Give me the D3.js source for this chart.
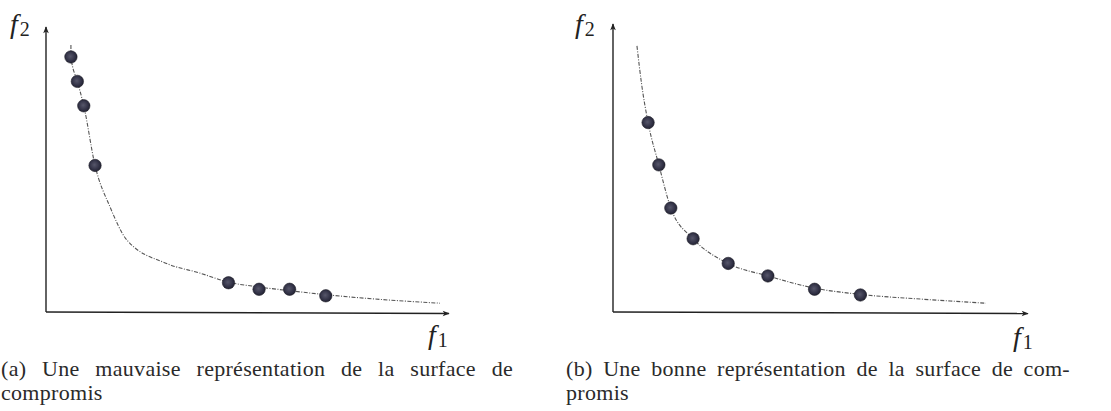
<!DOCTYPE html>
<html>
<head>
<meta charset="utf-8">
<script src="https://cdn.jsdelivr.net/npm/d3@7/dist/d3.min.js"></script>
<style>
  html, body { margin: 0; padding: 0; background: #fff; }
  svg { display: block; }
  .serif { font-family: "Liberation Serif", "DejaVu Serif", serif; }
</style>
</head>
<body>
<svg id="fig" width="1111" height="411"></svg>
<script>
// Panel (a): front samples clustered at the two ends of the trade-off curve
const frontA_f1 = [0.62, 0.62, 0.78, 0.94, 1.22, 1.59, 2.01, 3.00, 3.83, 4.54, 5.30, 6.06, 6.96, 7.98, 9.80];
const frontA_f2 = [9.40, 8.98, 8.12, 7.26, 5.16, 3.71, 2.54, 1.71, 1.37, 1.05, 0.88, 0.75, 0.61, 0.48, 0.31];
const pointsA_f1 = [0.62, 0.78, 0.94, 1.22, 4.54, 5.30, 6.06, 6.96];
const pointsA_f2 = [8.98, 8.12, 7.26, 5.16, 1.03, 0.80, 0.80, 0.57];

// Panel (b): front samples spread evenly along the trade-off curve
const frontB_f1 = [0.58, 0.69, 0.85, 1.11, 1.40, 1.94, 2.79, 3.75, 4.88, 5.99, 7.50, 9.03];
const frontB_f2 = [9.37, 8.05, 6.67, 5.18, 3.66, 2.58, 1.71, 1.27, 0.84, 0.62, 0.45, 0.31];
const pointsB_f1 = [0.85, 1.11, 1.40, 1.94, 2.79, 3.75, 4.88, 5.99];
const pointsB_f2 = [6.67, 5.18, 3.66, 2.58, 1.71, 1.27, 0.80, 0.60];

const captionA = ["(a) Une mauvaise représentation de la surface de", "compromis"];
const captionB = ["(b) Une bonne représentation de la surface de com-", "promis"];

const svg = d3.select("#fig");
const defs = svg.append("defs");
defs.append("marker")
  .attr("id", "arrow")
  .attr("viewBox", "0 0 10 10")
  .attr("refX", 9).attr("refY", 5)
  .attr("markerWidth", 9).attr("markerHeight", 7)
  .attr("markerUnits", "userSpaceOnUse")
  .attr("orient", "auto")
  .append("path")
  .attr("d", "M0,1 L10,5 L0,9 L2.5,5 Z")
  .attr("fill", "#222");

const dotGrad = defs.append("radialGradient")
  .attr("id", "dot").attr("cx", "45%").attr("cy", "45%").attr("r", "60%");
dotGrad.append("stop").attr("offset", "0%").attr("stop-color", "#56566a");
dotGrad.append("stop").attr("offset", "70%").attr("stop-color", "#2e2e42");
dotGrad.append("stop").attr("offset", "100%").attr("stop-color", "#20202c");

function panel(cfg) {
  const x = d3.scaleLinear().domain([0, 10]).range([cfg.x0, cfg.x1]);
  const y = d3.scaleLinear().domain([0, 10]).range([cfg.y0, 28]);
  const g = svg.append("g");

  // axes with arrow heads
  g.append("line")
    .attr("x1", x(0)).attr("y1", y(0)).attr("x2", x(0)).attr("y2", cfg.yTip)
    .attr("stroke", "#222").attr("stroke-width", 1.4)
    .attr("marker-end", "url(#arrow)");
  g.append("line")
    .attr("x1", x(0)).attr("y1", y(0)).attr("x2", cfg.xTip).attr("y2", y(0) + 1.5)
    .attr("stroke", "#222").attr("stroke-width", 1.4)
    .attr("marker-end", "url(#arrow)");

  // trade-off curve
  const line = d3.line()
    .x(d => x(d[0])).y(d => y(d[1]))
    .curve(d3.curveMonotoneX);
  g.append("path")
    .datum(d3.zip(cfg.front_f1, cfg.front_f2))
    .attr("d", line)
    .attr("fill", "none")
    .attr("stroke", "#555")
    .attr("stroke-width", 1.1)
    .attr("stroke-dasharray", "4,1.5,1,1.5");

  // sampled solutions
  g.selectAll("circle")
    .data(d3.zip(cfg.pts_f1, cfg.pts_f2))
    .join("circle")
    .attr("cx", d => x(d[0])).attr("cy", d => y(d[1]))
    .attr("r", 6.2)
    .attr("fill", "url(#dot)")
    .attr("stroke", "#1e1e28").attr("stroke-width", 0.6);

  // axis names
  const f2 = g.append("text").attr("class", "serif")
    .attr("x", cfg.f2x).attr("y", 33)
    .attr("fill", "#222");
  f2.append("tspan").attr("font-style", "italic").attr("font-size", 28).text("f");
  f2.append("tspan").attr("font-size", 20).attr("dx", 2).attr("dy", 3).text("2");

  const f1 = g.append("text").attr("class", "serif")
    .attr("x", cfg.f1x).attr("y", cfg.f1y)
    .attr("fill", "#222");
  f1.append("tspan").attr("font-style", "italic").attr("font-size", 28).text("f");
  f1.append("tspan").attr("font-size", 20).attr("dx", 2).attr("dy", 3).text("1");

  // caption, first line justified to the column width
  const cap = g.append("g").attr("class", "serif")
    .attr("font-size", 22)
    .attr("letter-spacing", 0.3)
    .attr("fill", "#2a2a2a");
  const l1 = cap.append("text").attr("x", cfg.capX).attr("y", 376).text(cfg.caption[0]);
  const natural = l1.node().getComputedTextLength();
  const gaps = cfg.caption[0].split(" ").length - 1;
  l1.attr("word-spacing", Math.max(0, (cfg.capW - natural) / gaps));
  cap.append("text").attr("x", cfg.capX).attr("y", 400).text(cfg.caption[1]);
}

panel({
  x0: 46, x1: 448, y0: 312, yTip: 27, xTip: 449,
  front_f1: frontA_f1, front_f2: frontA_f2,
  pts_f1: pointsA_f1, pts_f2: pointsA_f2,
  f2x: 10, f1x: 428, f1y: 344,
  caption: captionA, capX: 1, capW: 512
});

panel({
  x0: 613, x1: 1026, y0: 312, yTip: 24, xTip: 1028,
  front_f1: frontB_f1, front_f2: frontB_f2,
  pts_f1: pointsB_f1, pts_f2: pointsB_f2,
  f2x: 575, f1x: 1013, f1y: 346,
  caption: captionB, capX: 566, capW: 504
});
</script>
</body>
</html>
